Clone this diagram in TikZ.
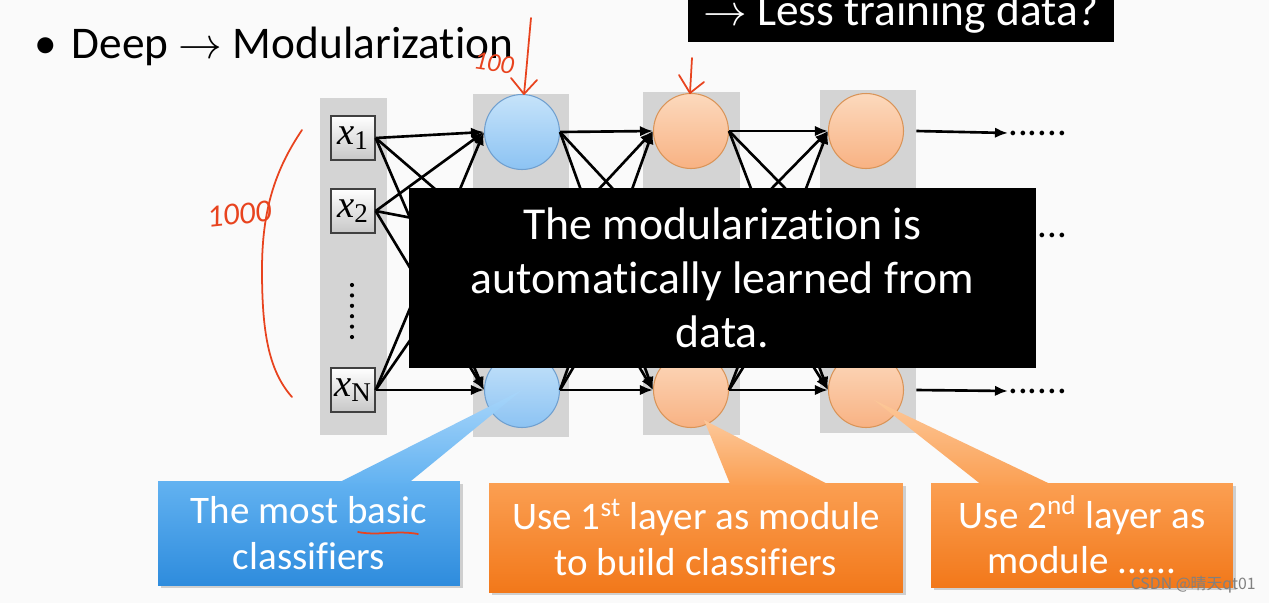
\documentclass[tikz,border=0pt]{standalone}
\usepackage{fontspec}
\setmainfont{Carlito}[Ligatures=NoCommon]
\newfontfamily\tms{Liberation Serif}
\newfontfamily\cjk{Noto Sans CJK SC}
\usepackage{xcolor}
\usetikzlibrary{arrows.meta,positioning,calc,shadows}

\definecolor{colgray}{HTML}{D4D4D4}
\definecolor{blueTop}{HTML}{C6E3FA}
\definecolor{blueBot}{HTML}{8CC3F3}
\definecolor{blueLine}{HTML}{6F9FCF}
\definecolor{orTop}{HTML}{FCD9BD}
\definecolor{orBot}{HTML}{F8B283}
\definecolor{orLine}{HTML}{D99458}
\definecolor{callBlueTop}{HTML}{62B2F1}
\definecolor{callBlueBot}{HTML}{2E8CDD}
\definecolor{callBlueTip}{HTML}{A9D6FA}
\definecolor{callOrTop}{HTML}{FB9F52}
\definecolor{callOrBot}{HTML}{F2781A}
\definecolor{callOrTip}{HTML}{FCC89A}
\definecolor{pen}{HTML}{E8431E}

\newcommand{\xin}[1]{{\tms\itshape x}\textsubscript{\tms #1}}

\tikzset{
  layer/.style={fill=colgray,draw=none,inner sep=0pt,minimum height=6.86cm},
  inbox/.style={draw=black!75,line width=0.8pt,top color=white,bottom color=black!22,
    minimum size=0.88cm,inner sep=0pt,font=\fontsize{22}{22}\selectfont},
  neuron/.style={circle,line width=0.6pt,minimum size=1.5cm,inner sep=0pt},
  bluen/.style={neuron,draw=blueLine,top color=blueTop,bottom color=blueBot},
  orn/.style={neuron,draw=orLine,top color=orTop,bottom color=orBot},
  conn/.style={line width=1.5pt,-{Latex[length=2.6mm,width=2.1mm]}},
  dots/.style={inner sep=0pt,font=\fontsize{22}{22}\selectfont},
  callout/.style={minimum width=6.04cm,minimum height=2.08cm,align=center,text=white,
    font=\fontsize{22.2}{25.9}\selectfont,
    drop shadow={opacity=0.35,shadow xshift=1.5pt,shadow yshift=-1.5pt}},
  bluecall/.style={callout,top color=callBlueTop,bottom color=callBlueBot},
  orcall/.style={callout,top color=callOrTop,bottom color=callOrBot},
  redpen/.style={draw=pen,line width=1pt,line cap=round,line join=round}
}

\begin{document}
\begin{tikzpicture}[x=0.02cm,y=-0.02cm]
\useasboundingbox (0,0) rectangle (1269,603);
\fill[black!2] (0,0) rectangle (1269,603);

% title and top banner
\node[anchor=base west,inner sep=0pt,font=\fontsize{25.8}{26}\selectfont] (title) at (34,58)
  {\textbullet\hspace{0.3cm}Deep $\rightarrow$ Modularization};
\node[anchor=base,fill=black,text=white,minimum width=8.52cm,inner ysep=0pt,
  text height=1cm,text depth=0.34cm,font=\fontsize{25.8}{26}\selectfont] (less) at (901,25)
  {$\rightarrow$ Less training data?};

% gray layer columns
\node[layer,minimum width=1.34cm,minimum height=6.74cm] (L0) at (353.5,266.5) {};
\node[layer,minimum width=1.92cm] (L1) at (521,265.5) {};
\node[layer,minimum width=1.94cm] (L2) at (691.5,263.5) {};
\node[layer,minimum width=1.92cm] (L3) at (868,261.5) {};

% inputs
\node[inbox] (x1) at (353,138) {\xin{1}};
\node[inbox] (x2) at (353,211) {\xin{2}};
\node[inbox] (xN) at (353,390) {\xin{N}};
\foreach \i in {0,...,5}
  \fill (352,285+10.4*\i) circle (2.1);

% neurons (middle row lies under the note)
\node[bluen] (b1) at (522,132) {};
\node[bluen] (b3) at (522,390) {};
\node[orn] (o1) at (691,131) {};
\node[orn] (o3) at (691,390) {};
\node[orn] (p1) at (866,131) {};
\node[orn] (p3) at (866,390) {};
\coordinate (b2w) at (485,232);
\coordinate (b2e) at (559,232);
\coordinate (o2w) at (653,232);
\coordinate (o2e) at (729,232);
\coordinate (p2w) at (828,232);

\foreach \s in {x1,x2,xN}
  \foreach \t in {b1.west,b2w,b3.west}
    \draw[conn] (\s.east) -- (\t);
\foreach \s in {b1.east,b2e,b3.east}
  \foreach \t in {o1.west,o2w,o3.west}
    \draw[conn] (\s) -- (\t);
\foreach \s in {o1.east,o2e,o3.east}
  \foreach \t in {p1.west,p2w,p3.west}
    \draw[conn] (\s) -- (\t);

% outputs
\node[dots,anchor=west] (d1) at (1008,133) {......};
\node[dots,anchor=west] (d2) at (1008,235) {......};
\node[dots,anchor=west] (d3) at (1008,391) {......};
\draw[conn] (L3.east |- p1.east) -- (d1.west);
\draw[conn] (L3.east |- p3.east) -- (d3.west);

% black note over the network
\node[fill=black,text=white,minimum width=12.54cm,minimum height=3.6cm,align=center,
  font=\fontsize{26}{30.7}\selectfont] (note) at (722.5,278)
  {The modularization is\\automatically learned from\\data.};

% callouts
\node[bluecall] (basic) at (309,533) {The most basic\\classifiers};
\shade[top color=callBlueTip,bottom color=callBlueTop]
  ($(basic.north west)+(179,3)$) -- (b3.center) -- ($(basic.north west)+(250,3)$) -- cycle;
\node[orcall,minimum width=8.28cm,minimum height=2.18cm] (first) at (696,537.5)
  {Use 1\textsuperscript{st} layer as module\\to build classifiers};
\shade[top color=callOrTip,bottom color=callOrTop]
  ($(first.north west)+(242,3)$) -- ($(o3.center)+(13,30)$) -- ($(first.north west)+(342,3)$) -- cycle;
\node[orcall] (second) at (1082,535) {Use 2\textsuperscript{nd} layer as\\module ......};
\shade[top color=callOrTip,bottom color=callOrTop]
  ($(second.north west)+(52,3)$) -- ($(p3.center)+(8,10)$) -- ($(second.north west)+(123,3)$) -- cycle;

% red pen notes
\draw[redpen] (531,18) .. controls (528,50) and (526,75) .. (524,94);
\draw[redpen] (511,78) -- (524,94) -- (537,80);
\draw[redpen] (692,58) -- (690,93);
\draw[redpen] (679,75) -- (690,93) -- (704,82);
\node[text=pen,rotate=-8,inner sep=0pt,font=\itshape\fontsize{15}{15}\selectfont] (hundred) at (494,63) {100};
\draw[redpen] (302,130) .. controls (275,170) and (262,210) .. (262,270)
  .. controls (262,330) and (268,370) .. (292,397);
\node[text=pen,rotate=6,inner sep=0pt,font=\itshape\fontsize{18}{18}\selectfont] (thousand) at (239,214) {1000};
\draw[redpen] (358,532) .. controls (378,536) and (396,530) .. (418,534);

% watermark
\node[anchor=east,text=black!50,inner sep=0pt,font=\cjk\fontsize{9}{9}\selectfont] (wm) at (1256,585)
  {CSDN @晴天qt01};
\end{tikzpicture}
\end{document}
